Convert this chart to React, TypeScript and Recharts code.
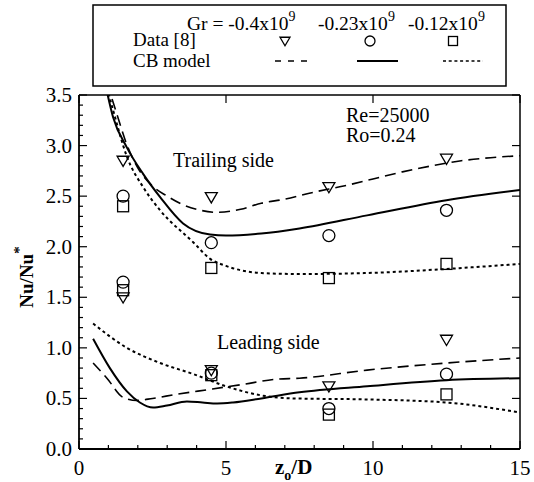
import { ComposedChart, Line, Scatter, XAxis, YAxis } from "recharts";

// plot frame in page pixels
const PL = 79;
const PR = 520;
const PT = 95;
const PB = 449;
const FONT = "'Liberation Serif', 'DejaVu Serif', serif";

const xTicks = [0, 1, 2, 3, 4, 5, 6, 7, 8, 9, 10, 11, 12, 13, 14, 15];
const xLabels = [0, 5, 10, 15];
const yTicks = [
  0, 0.1, 0.2, 0.3, 0.4, 0.5, 0.6, 0.7, 0.8, 0.9, 1, 1.1, 1.2, 1.3, 1.4, 1.5, 1.6, 1.7, 1.8, 1.9, 2, 2.1,
  2.2, 2.3, 2.4, 2.5, 2.6, 2.7, 2.8, 2.9, 3, 3.1, 3.2, 3.3, 3.4, 3.5,
];
const yLabels = [0, 0.5, 1, 1.5, 2, 2.5, 3, 3.5];

// measured data [8]
const dataX = [1.5, 4.5, 8.5, 12.5];
const trailTri = [2.85, 2.49, 2.59, 2.87];
const trailCirc = [2.5, 2.04, 2.11, 2.36];
const trailSq = [2.4, 1.79, 1.69, 1.83];
const leadTri = [1.5, 0.78, 0.62, 1.08];
const leadCirc = [1.65, 0.75, 0.4, 0.74];
const leadSq = [1.57, 0.73, 0.34, 0.54];

// CB model curves
const trailDashX = [0.95, 1.3, 1.6, 2, 2.5, 3, 3.5, 4, 4.7, 5.5, 6.2, 7, 8, 9, 10, 11, 12, 13, 14, 15];
const trailDashY = [3.62, 3.3, 3.03, 2.78, 2.6, 2.5, 2.42, 2.37, 2.34, 2.37, 2.43, 2.47, 2.54, 2.6, 2.67, 2.74, 2.8, 2.85, 2.88, 2.9];
const trailSolidX = [0.9, 1.16, 1.63, 2.18, 2.76, 3.54, 4.46, 5, 6.2, 7.5, 9.8, 12.5, 15];
const trailSolidY = [3.6, 3.28, 2.98, 2.72, 2.49, 2.23, 2.12, 2.11, 2.13, 2.18, 2.31, 2.46, 2.56];
const trailDotX = [0.9, 1.16, 1.63, 2.18, 2.76, 3.9, 4.46, 5, 6.2, 7.5, 9.8, 12.5, 15];
const trailDotY = [3.63, 3.35, 2.89, 2.59, 2.36, 2.04, 1.88, 1.81, 1.74, 1.73, 1.74, 1.78, 1.83];
const leadDashX = [0.48, 0.95, 1.5, 1.97, 2.5, 3.3, 4.46, 5.6, 6.7, 7.5, 9.8, 12.5, 15];
const leadDashY = [0.85, 0.7, 0.51, 0.48, 0.5, 0.54, 0.59, 0.64, 0.69, 0.7, 0.78, 0.85, 0.9];
const leadSolidX = [0.48, 1.05, 1.63, 2.07, 2.52, 2.99, 3.67, 4.2, 4.7, 5.24, 6.2, 7.5, 9.8, 12.5, 15];
const leadSolidY = [1.09, 0.8, 0.57, 0.46, 0.41, 0.43, 0.47, 0.46, 0.45, 0.46, 0.5, 0.56, 0.62, 0.68, 0.7];
const leadDotX = [0.48, 1.63, 2.76, 3.9, 5, 6.2, 7.3, 9.8, 12.5, 15];
const leadDotY = [1.24, 1.0, 0.85, 0.74, 0.62, 0.53, 0.5, 0.49, 0.46, 0.36];

const pts = (xs: number[], ys: number[]) => xs.map((x, i) => ({ x, y: ys[i] }));

const isLabel = (v: number, list: number[]) => list.some((l) => Math.abs(l - v) < 1e-6);

function Tri({ cx, cy, s = 6 }: any) {
  return <polygon points={`${cx - s},${cy - s * 0.75} ${cx + s},${cy - s * 0.75} ${cx},${cy + s * 0.95}`} fill="none" stroke="#000" strokeWidth={1.3} />;
}
function Circ({ cx, cy, r = 6 }: any) {
  return <circle cx={cx} cy={cy} r={r} fill="none" stroke="#000" strokeWidth={1.3} />;
}
function Sq({ cx, cy, s = 5.5 }: any) {
  return <rect x={cx - s} y={cy - s} width={2 * s} height={2 * s} fill="none" stroke="#000" strokeWidth={1.3} />;
}

function BottomTick(props: any) {
  const { x, payload } = props;
  const major = isLabel(payload.value, xLabels);
  return (
    <g>
      <line x1={x} x2={x} y1={PB} y2={PB - (major ? 8 : 4)} stroke="#000" strokeWidth={1.2} />
      {major && (
        <text x={x} y={PB + 26} textAnchor="middle" fontFamily={FONT} fontSize={21} fill="#000">
          {payload.value}
        </text>
      )}
    </g>
  );
}
function TopTick(props: any) {
  const { x, payload } = props;
  if (!isLabel(payload.value, xLabels)) return <g />;
  return <line x1={x} x2={x} y1={PT} y2={PT + 8} stroke="#000" strokeWidth={1.2} />;
}
function LeftTick(props: any) {
  const { y, payload } = props;
  const major = isLabel(payload.value, yLabels);
  return (
    <g>
      <line x1={PL} x2={PL + (major ? 8 : 4)} y1={y} y2={y} stroke="#000" strokeWidth={1.2} />
      {major && (
        <text x={PL - 7} y={y + 7} textAnchor="end" fontFamily={FONT} fontSize={21} fill="#000">
          {payload.value.toFixed(1)}
        </text>
      )}
    </g>
  );
}
function RightTick(props: any) {
  const { y, payload } = props;
  if (!isLabel(payload.value, yLabels)) return <g />;
  return <line x1={PR} x2={PR - 8} y1={y} y2={y} stroke="#000" strokeWidth={1.2} />;
}

export default function App() {
  const lineProps = { type: "monotone" as const, dataKey: "y", dot: false, stroke: "#000", isAnimationActive: false };
  return (
    <div style={{ position: "absolute", left: 0, top: 0, width: 534, height: 482, background: "#fff" }}>
      <ComposedChart width={534} height={482} margin={{ top: PT - 10, right: 0, bottom: 0, left: 0 }}>
        <XAxis xAxisId="b" type="number" dataKey="x" domain={[0, 15]} ticks={xTicks} interval={0} height={482 - PB} tick={<BottomTick />} tickLine={false} axisLine={{ stroke: "#000", strokeWidth: 1.8 }} allowDataOverflow />
        <XAxis xAxisId="t" orientation="top" type="number" dataKey="x" domain={[0, 15]} ticks={xTicks} interval={0} height={10} tick={<TopTick />} tickLine={false} axisLine={{ stroke: "#000", strokeWidth: 1.5 }} allowDataOverflow />
        <YAxis yAxisId="l" type="number" domain={[0, 3.5]} ticks={yTicks} interval={0} width={PL} tick={<LeftTick />} tickLine={false} axisLine={{ stroke: "#000", strokeWidth: 1.8 }} allowDataOverflow />
        <YAxis yAxisId="r" orientation="right" type="number" domain={[0, 3.5]} ticks={yTicks} interval={0} width={534 - PR} tick={<RightTick />} tickLine={false} axisLine={{ stroke: "#000", strokeWidth: 1.5 }} allowDataOverflow />

        <Line xAxisId="b" yAxisId="l" data={pts(trailDashX, trailDashY)} {...lineProps} strokeWidth={1.6} strokeDasharray="11 6" />
        <Line xAxisId="b" yAxisId="l" data={pts(trailSolidX, trailSolidY)} {...lineProps} strokeWidth={2} />
        <Line xAxisId="b" yAxisId="l" data={pts(trailDotX, trailDotY)} {...lineProps} strokeWidth={2} strokeDasharray="3 3" />
        <Line xAxisId="b" yAxisId="l" data={pts(leadDashX, leadDashY)} {...lineProps} strokeWidth={1.6} strokeDasharray="11 6" />
        <Line xAxisId="b" yAxisId="l" data={pts(leadSolidX, leadSolidY)} {...lineProps} strokeWidth={2} />
        <Line xAxisId="b" yAxisId="l" data={pts(leadDotX, leadDotY)} {...lineProps} strokeWidth={2} strokeDasharray="3 3" />
        {/* ties the top/right frame axes to the same scales */}
        <Line xAxisId="t" yAxisId="r" data={pts(leadDotX, leadDotY)} {...lineProps} stroke="none" strokeWidth={0} />

        <Scatter xAxisId="b" yAxisId="l" data={pts(dataX, trailTri)} dataKey="y" shape={<Tri />} isAnimationActive={false} />
        <Scatter xAxisId="b" yAxisId="l" data={pts(dataX, trailCirc)} dataKey="y" shape={<Circ />} isAnimationActive={false} />
        <Scatter xAxisId="b" yAxisId="l" data={pts(dataX, trailSq)} dataKey="y" shape={<Sq />} isAnimationActive={false} />
        <Scatter xAxisId="b" yAxisId="l" data={pts(dataX, leadTri)} dataKey="y" shape={<Tri />} isAnimationActive={false} />
        <Scatter xAxisId="b" yAxisId="l" data={pts(dataX, leadCirc)} dataKey="y" shape={<Circ />} isAnimationActive={false} />
        <Scatter xAxisId="b" yAxisId="l" data={pts(dataX, leadSq)} dataKey="y" shape={<Sq />} isAnimationActive={false} />
      </ComposedChart>

      <svg width={534} height={482} style={{ position: "absolute", left: 0, top: 0, pointerEvents: "none" }} fontFamily={FONT} fill="#000">
        {/* legend box */}
        <rect x={93} y={5} width={413} height={81} fill="none" stroke="#000" strokeWidth={1.5} />
        <text x={187} y={30} fontSize={19.5}>
          Gr = -0.4x10<tspan dy={-9} fontSize={14}>9</tspan>
        </text>
        <text x={318} y={30} fontSize={19.5}>
          -0.23x10<tspan dy={-9} fontSize={14}>9</tspan>
        </text>
        <text x={408} y={30} fontSize={19.5}>
          -0.12x10<tspan dy={-9} fontSize={14}>9</tspan>
        </text>
        <text x={133} y={46} fontSize={19}>Data [8]</text>
        <text x={133} y={67} fontSize={19}>CB model</text>
        <Tri cx={285} cy={41} s={5} />
        <Circ cx={370} cy={41} r={5} />
        <Sq cx={453} cy={41} s={4.5} />
        <line x1={275} x2={307} y1={61} y2={61} stroke="#000" strokeWidth={1.6} strokeDasharray="6 7" />
        <line x1={357} x2={398} y1={61} y2={61} stroke="#000" strokeWidth={2} />
        <line x1={443} x2={483} y1={61} y2={61} stroke="#000" strokeWidth={1.6} strokeDasharray="3 2.7" />

        {/* annotations */}
        <text x={173} y={167} fontSize={20}>Trailing side</text>
        <text x={217} y={349} fontSize={20}>Leading side</text>
        <text x={346} y={122} fontSize={20}>Re=25000</text>
        <text x={346} y={142} fontSize={20}>Ro=0.24</text>

        {/* axis titles */}
        <text transform="translate(33,277) rotate(-90)" textAnchor="middle" fontSize={19} fontWeight="bold">
          Nu/Nu<tspan dy={-9} fontSize={15}>*</tspan>
        </text>
        <text x={275} y={474} fontSize={21} fontWeight="bold">
          z<tspan dy={6} fontSize={14}>o</tspan>
          <tspan dy={-6}>/D</tspan>
        </text>
      </svg>
    </div>
  );
}
